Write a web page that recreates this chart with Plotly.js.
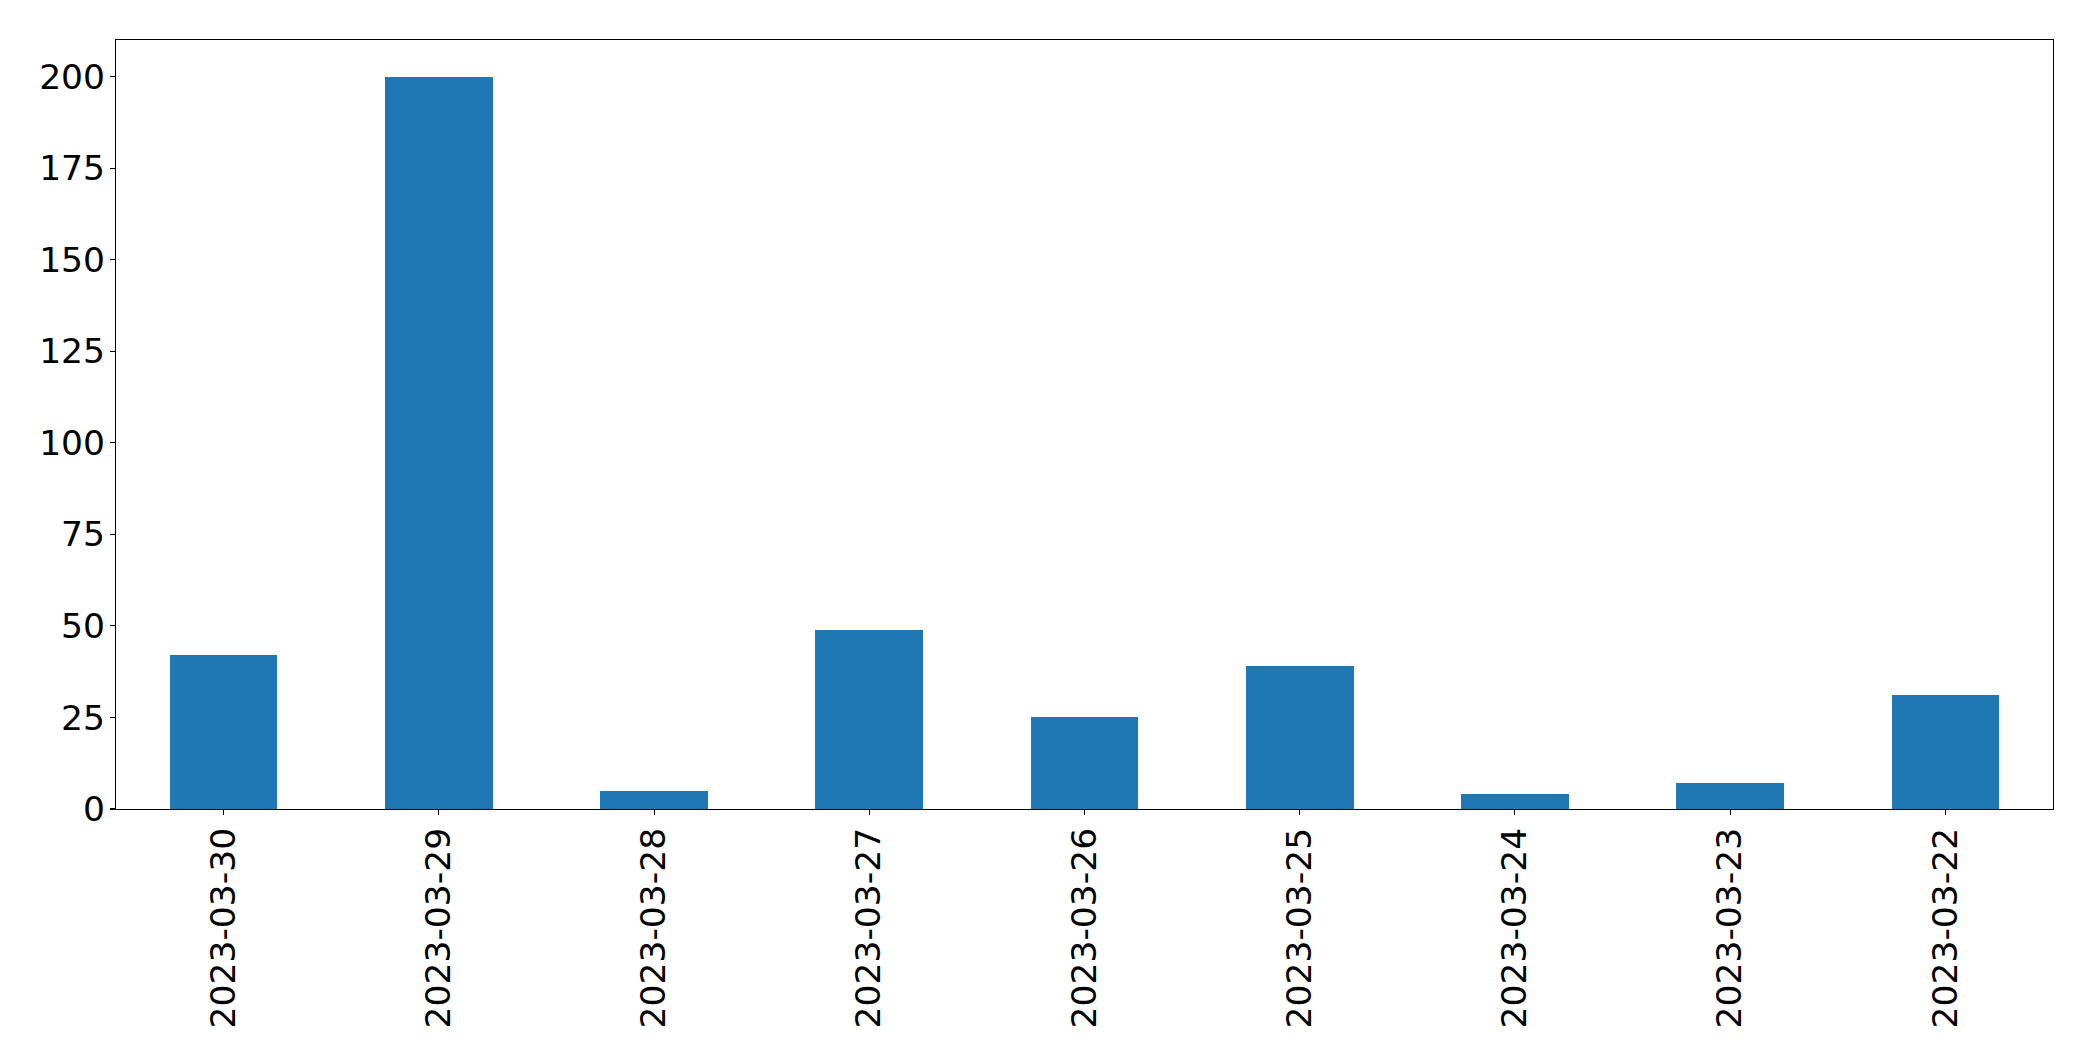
<!DOCTYPE html>
<html>
<head>
<meta charset="utf-8">
<script src="https://cdn.plot.ly/plotly-3.0.1.min.js"></script>
<style>html,body{margin:0;padding:0;background:#fff;}#chart{width:2093px;height:1061px;}</style>
</head>
<body>
<div id="chart"></div>
<script>
const dates = ["2023-03-30","2023-03-29","2023-03-28","2023-03-27","2023-03-26","2023-03-25","2023-03-24","2023-03-23","2023-03-22"];
const counts = [42, 200, 5, 49, 25, 39, 4, 7, 31];
const yTicks = [0, 25, 50, 75, 100, 125, 150, 175, 200];

const trace = {
  type: 'bar',
  x: dates,
  y: counts,
  width: 0.5,
  marker: {color: '#1f77b4', line: {width: 0}},
  hoverinfo: 'x+y'
};

const font = {family: 'DejaVu Sans, sans-serif', size: 34.5, color: '#000'};

const layout = {
  width: 2093,
  height: 1061,
  margin: {l: 116, r: 40, t: 40, b: 252},
  paper_bgcolor: '#fff',
  plot_bgcolor: '#fff',
  showlegend: false,
  font: font,
  bargap: 0,
  xaxis: {
    type: 'category',
    range: [-0.5, 8.5],
    tickangle: -90,
    ticks: 'outside',
    ticklen: 5,
    tickwidth: 1.1,
    tickcolor: '#000',
    showline: true,
    linecolor: '#000',
    linewidth: 1.1,
    mirror: true,
    showgrid: false,
    zeroline: false,
    tickfont: font,
    ticklabelstandoff: -1
  },
  yaxis: {
    range: [0, 210],
    tickmode: 'array',
    tickvals: yTicks,
    ticktext: yTicks.map(String),
    ticks: 'outside',
    ticklen: 5,
    tickwidth: 1.1,
    tickcolor: '#000',
    showline: true,
    linecolor: '#000',
    linewidth: 1.1,
    mirror: true,
    showgrid: false,
    zeroline: false,
    tickfont: font,
    ticklabelstandoff: -2
  }
};

Plotly.newPlot('chart', [trace], layout, {displayModeBar: false, staticPlot: true});
</script>
</body>
</html>
